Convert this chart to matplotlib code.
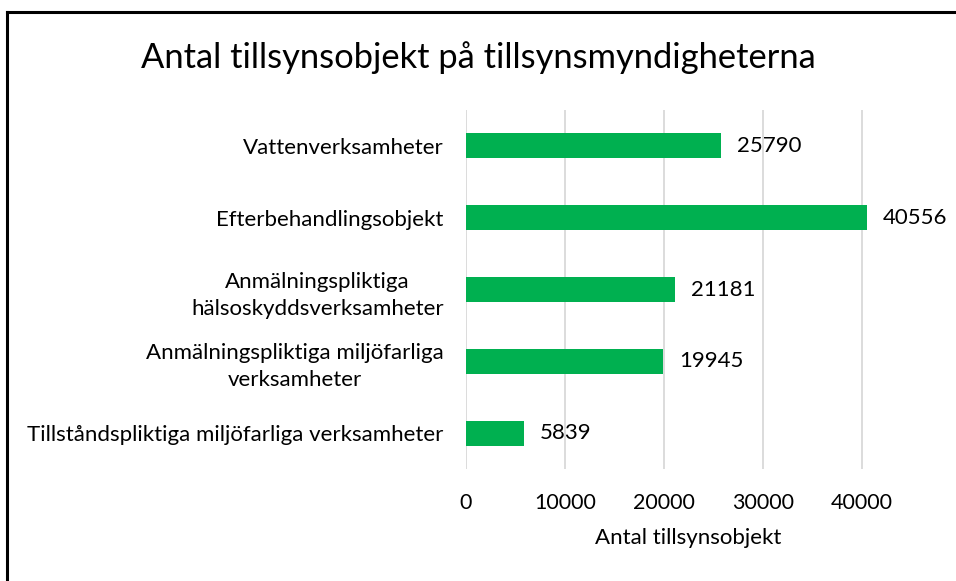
import matplotlib
matplotlib.use("Agg")
import matplotlib.pyplot as plt
from matplotlib.lines import Line2D

plt.rcParams['font.family'] = ['Lato', 'DejaVu Sans']

categories = [
    "Vattenverksamheter",
    "Efterbehandlingsobjekt",
    "Anmälningspliktiga\nhälsoskyddsverksamheter",
    "Anmälningspliktiga miljöfarliga\nverksamheter",
    "Tillståndspliktiga miljöfarliga verksamheter",
]
values = [25790, 40556, 21181, 19945, 5839]
xticks = [0, 10000, 20000, 30000, 40000]
title = "Antal tillsynsobjekt på tillsynsmyndigheterna"
xlabel = "Antal tillsynsobjekt"

W, H = 956, 581
fig = plt.figure(figsize=(W / 100, H / 100), dpi=100)
ax = fig.add_axes([466 / W, 1 - 469 / H, (911 - 466) / W, (469 - 110) / H])

ypos = list(range(len(categories)))
ax.barh(ypos, values, height=0.35, color="#00B050", zorder=3)
ax.set_ylim(len(categories) - 0.5, -0.5)
ax.set_xlim(0, 45000)
ax.set_xticks(xticks)
ax.set_xticklabels([str(t) for t in xticks], fontsize=15.5, color="#000000")
ax.set_yticks(ypos)
ax.set_yticklabels(categories, fontsize=16, color="#000000", ha="right",
                   multialignment="center", linespacing=1.45)
ax.tick_params(axis="y", length=0, pad=16)
ax.tick_params(axis="x", length=0, pad=17)

ax.grid(axis="x", color="#D9D9D9", linewidth=1.3, zorder=0)
for s in ax.spines.values():
    s.set_visible(False)

for y, v in zip(ypos, values):
    ax.text(v + 1600, y, str(v), va="center", ha="left", fontsize=16, color="#000000")

ax.set_xlabel(xlabel, fontsize=16, labelpad=11, color="#000000")
fig.text(0.5, 1 - 58 / H, title, ha="center", va="center", fontsize=24.8, color="#000000")

# partial border (top and left edges of chart frame)
fig.add_artist(Line2D([7 / W, 1], [1 - 12 / H, 1 - 12 / H], color="black", linewidth=2.2, transform=fig.transFigure))
fig.add_artist(Line2D([7 / W, 7 / W], [0, 1 - 12 / H], color="black", linewidth=2.2, transform=fig.transFigure))

fig.savefig("out.png", dpi=100)
